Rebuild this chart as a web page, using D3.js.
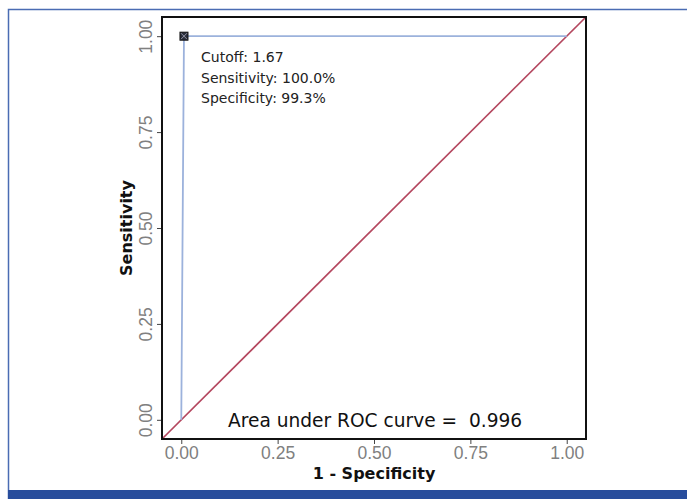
<!DOCTYPE html>
<html lang="en">
<head>
  <meta charset="utf-8" />
  <title>ROC curve</title>
  <style>
    html, body { margin: 0; padding: 0; background: #fff; }
    svg { display: block; font-family: "DejaVu Sans", sans-serif; }
  </style>
</head>
<body>
  <svg id="chart" width="687" height="499"></svg>

  <script src="https://d3js.org/d3.v7.min.js"></script>
  <script>
    // ROC points (1 - specificity, sensitivity)
    const fpr = [0, 0.007, 1];
    const tpr = [0, 1, 1];
    const cutoffPoint = [0.007, 1];
    const ticks = [0, 0.25, 0.5, 0.75, 1];
    const notes = ["Cutoff: 1.67", "Sensitivity: 100.0%", "Specificity: 99.3%"];
    const aucLabel = "Area under ROC curve =  0.996";

    const svg = d3.select("#chart");

    // outer frame
    svg.append("path")
      .attr("d", "M8.5,499 L8.5,9.5 L687,9.5")
      .attr("fill", "none")
      .attr("stroke", "#4a6cb3")
      .attr("stroke-width", 1.5);
    svg.append("rect")
      .attr("x", 8).attr("y", 490).attr("width", 679).attr("height", 9)
      .attr("fill", "#284d9c");

    const panel = { left: 162, right: 586, top: 17, bottom: 439 };
    const x = d3.scaleLinear().domain([-0.05, 1.05]).range([panel.left, panel.right]);
    const y = d3.scaleLinear().domain([-0.05, 1.05]).range([panel.bottom, panel.top]);

    // diagonal reference
    svg.append("line")
      .attr("x1", x(-0.05)).attr("y1", y(-0.05))
      .attr("x2", x(1.05)).attr("y2", y(1.05))
      .attr("stroke", "#b4475f")
      .attr("stroke-width", 1.7);

    // ROC line
    const line = d3.line().x(d => x(d[0])).y(d => y(d[1]));
    svg.append("path")
      .datum(fpr.map((v, i) => [v, tpr[i]]))
      .attr("d", line)
      .attr("fill", "none")
      .attr("stroke", "#9cb2dc")
      .attr("stroke-width", 1.8);

    // cutoff marker (boxed cross)
    const mx = x(cutoffPoint[0]), my = y(cutoffPoint[1]);
    svg.append("rect")
      .attr("x", mx - 4).attr("y", my - 4).attr("width", 8).attr("height", 8)
      .attr("fill", "#2b2f3c").attr("stroke", "#111").attr("stroke-width", 1);
    svg.append("path")
      .attr("d", `M${mx - 3},${my - 3}L${mx + 3},${my + 3}M${mx + 3},${my - 3}L${mx - 3},${my + 3}`)
      .attr("stroke", "#aab").attr("stroke-width", 0.8);

    // panel border
    svg.append("rect")
      .attr("x", panel.left).attr("y", panel.top)
      .attr("width", panel.right - panel.left).attr("height", panel.bottom - panel.top)
      .attr("fill", "none").attr("stroke", "#111").attr("stroke-width", 2);

    // x axis
    const xAxis = svg.append("g")
      .attr("transform", `translate(0,${panel.bottom + 1})`)
      .call(d3.axisBottom(x).tickValues(ticks).tickFormat(d3.format(".2f")).tickSize(4).tickPadding(3));
    xAxis.select(".domain").remove();
    xAxis.selectAll("line").attr("stroke", "#444");
    xAxis.selectAll("text").attr("fill", "#808080").style("font-size", "17.5px");

    // y axis
    const yAxis = svg.append("g")
      .attr("transform", `translate(${panel.left - 1},0)`)
      .call(d3.axisLeft(y).tickValues(ticks).tickFormat(d3.format(".2f")).tickSize(4).tickPadding(0));
    yAxis.select(".domain").remove();
    yAxis.selectAll("line").attr("stroke", "#444");
    yAxis.selectAll("text")
      .attr("fill", "#808080").style("font-size", "17.5px")
      .attr("text-anchor", "middle")
      .attr("x", 0).attr("dy", 0)
      .attr("transform", "translate(-9,0) rotate(-90)");

    // axis titles
    svg.append("text")
      .attr("x", (panel.left + panel.right) / 2).attr("y", 479)
      .attr("text-anchor", "middle")
      .attr("font-weight", "bold").attr("font-size", 16).attr("fill", "#111")
      .text("1 - Specificity");
    svg.append("text")
      .attr("transform", `translate(132,${(panel.top + panel.bottom) / 2}) rotate(-90)`)
      .attr("text-anchor", "middle")
      .attr("font-weight", "bold").attr("font-size", 16).attr("fill", "#111")
      .text("Sensitivity");

    // annotations
    svg.append("g").selectAll("text")
      .data(notes)
      .enter()
      .append("text")
      .attr("x", 201)
      .attr("y", (d, i) => 62 + i * 20.5)
      .attr("font-size", 14)
      .attr("fill", "#222")
      .text(d => d);

    svg.append("text")
      .attr("x", 228).attr("y", 427)
      .attr("font-size", 18.6)
      .attr("fill", "#111")
      .style("white-space", "pre")
      .text(aucLabel);
  </script>
</body>
</html>
